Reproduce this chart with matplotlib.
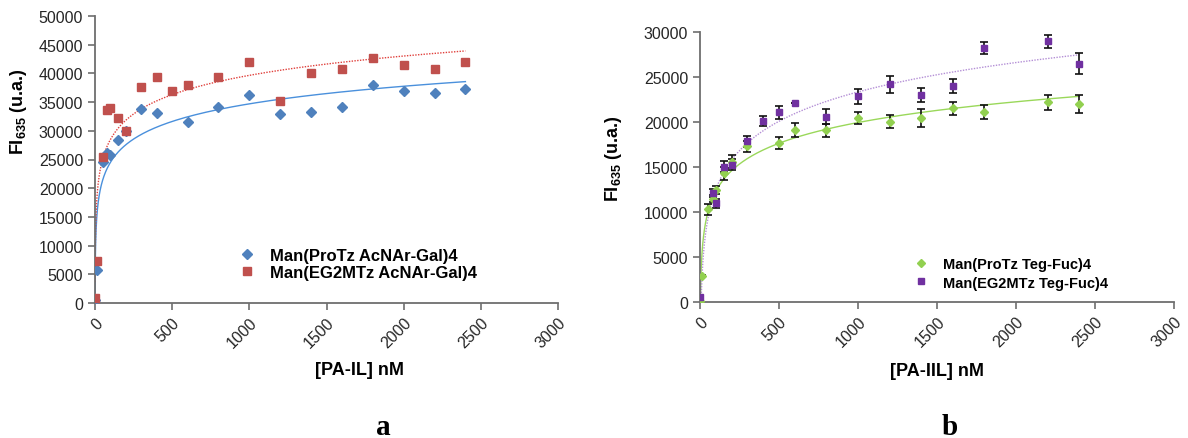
import numpy as np
import matplotlib
matplotlib.use("Agg")
import matplotlib.pyplot as plt

plt.rcParams['font.family'] = ['Liberation Sans', 'DejaVu Sans']
plt.rcParams['mathtext.fontset'] = 'custom'
plt.rcParams['mathtext.rm'] = 'Liberation Sans'
plt.rcParams['mathtext.bf'] = 'Liberation Sans:bold'

# ---------------- Panel a data ----------------
a_x_blue = [0, 10, 50, 80, 100, 150, 200, 300, 400, 600, 800, 1000, 1200, 1400, 1600, 1800, 2000, 2200, 2400]
a_y_blue = [500, 5750, 24600, 26100, 25800, 28450, 30000, 33800, 33100, 31600, 34200, 36200, 33000, 33300, 34200, 38000, 36900, 36600, 37200]
a_x_red = [0, 10, 50, 80, 100, 150, 200, 300, 400, 500, 600, 800, 1000, 1200, 1400, 1600, 1800, 2000, 2200, 2400]
a_y_red = [900, 7300, 25400, 33700, 34000, 32200, 29900, 37700, 39400, 36900, 37900, 39300, 41900, 35200, 40000, 40700, 42600, 41400, 40700, 41900]
a_labels = ['Man(ProTz AcNAr-Gal)4', 'Man(EG2MTz AcNAr-Gal)4']

# ---------------- Panel b data ----------------
b_x_green = [0, 10, 50, 80, 100, 150, 200, 300, 500, 600, 800, 1000, 1200, 1400, 1600, 1800, 2200, 2400]
b_y_green = [150, 2900, 10300, 11500, 12450, 14300, 15600, 17300, 17700, 19100, 19100, 20450, 20050, 20450, 21500, 21150, 22200, 22000]
b_e_green = [0, 150, 610, 400, 460, 740, 740, 590, 650, 800, 720, 690, 690, 960, 760, 780, 830, 1000]
b_x_purple = [0, 80, 100, 150, 200, 300, 400, 500, 600, 800, 1000, 1200, 1400, 1600, 1800, 2200, 2400]
b_y_purple = [600, 12080, 10960, 15040, 15260, 17860, 20150, 21070, 22070, 20600, 22850, 24180, 23000, 24000, 28260, 28970, 26480]
b_e_purple = [0, 460, 480, 590, 610, 610, 560, 700, 0, 830, 830, 925, 760, 780, 670, 740, 1170]
b_labels = ['Man(ProTz Teg-Fuc)4', 'Man(EG2MTz Teg-Fuc)4']

x_ticks = [0, 500, 1000, 1500, 2000, 2500, 3000]
a_y_ticks = list(range(0, 50001, 5000))
b_y_ticks = list(range(0, 30001, 5000))


def logfit_curve(x, y, xmin, xmax):
    x = np.asarray(x, float)
    y = np.asarray(y, float)
    m = x > 0
    a, b = np.polyfit(np.log(x[m]), y[m], 1)
    xs = np.geomspace(xmin, xmax, 400)
    return xs, a * np.log(xs) + b


W, H = 1188, 439
fig = plt.figure(figsize=(W / 100, H / 100), dpi=100)

spine_col = '#6e6e6e'
tick_col = '#262626'
ylab = r'FI$_{\mathbf{635}}$ (u.a.)'


def style(ax, yticks):
    for s in ['top', 'right']:
        ax.spines[s].set_visible(False)
    for s in ['left', 'bottom']:
        ax.spines[s].set_color(spine_col)
        ax.spines[s].set_linewidth(1.3)
    ax.set_xlim(0, 3000)
    ax.set_xticks(x_ticks)
    ax.set_yticks(yticks)
    ax.set_ylim(yticks[0], yticks[-1])
    ax.tick_params(axis='both', colors=spine_col, labelcolor=tick_col, labelsize=11.5, length=5, width=1.2, direction='out')
    for lab in ax.get_xticklabels():
        lab.set_rotation(45)
        lab.set_ha('right')
        lab.set_va('top')
        lab.set_rotation_mode('anchor')


# ---------------- Panel a ----------------
axa = fig.add_axes([95 / W, 1 - 304 / H, 463 / W, 287 / H])
style(axa, a_y_ticks)
xs, ys = logfit_curve(a_x_blue, a_y_blue, 0.6, 2400)
axa.plot(xs, ys, color='#4a90dc', lw=1.0, zorder=2)
xs, ys = logfit_curve(a_x_red, a_y_red, 0.6, 2400)
axa.plot(xs, ys, color='#e0403c', lw=1.0, ls=(0, (1, 1)), zorder=2)
axa.plot(a_x_blue, a_y_blue, ls='none', marker='D', ms=5.5, color='#4f81bd', mec='#4f81bd', label=a_labels[0], zorder=3)
axa.plot(a_x_red, a_y_red, ls='none', marker='s', ms=6.2, color='#c0504d', mec='#c0504d', label=a_labels[1], zorder=3)
axa.set_xlabel('[PA-IL] nM', fontsize=13, fontweight='bold')
axa.xaxis.set_label_coords(0.572, -0.202)
axa.set_ylabel(ylab, fontsize=13, fontweight='bold')
axa.yaxis.set_label_coords(-0.1425, 0.67)
axa.legend(loc='lower left', bbox_to_anchor=(0.289, 0.05), frameon=False, prop={'weight': 'bold', 'size': 12},
           handletextpad=0.8, labelspacing=0.15, borderpad=0, handlelength=1.2)

# ---------------- Panel b ----------------
bw = 474
axb = fig.add_axes([700 / W, 1 - 303 / H, bw / W, 270 / H])
style(axb, b_y_ticks)
xs, ys = logfit_curve(b_x_green, b_y_green, 1.0, 2400)
axb.plot(xs, ys, color='#9ad85a', lw=1.0, zorder=2)
xs, ys = logfit_curve(b_x_purple, b_y_purple, 1.0, 2400)
axb.plot(xs, ys, color='#b48fd6', lw=1.0, ls=(0, (1, 1)), zorder=2)
axb.errorbar(b_x_green, b_y_green, yerr=b_e_green, fmt='none', ecolor='#111111', elinewidth=1.2, capsize=3, capthick=1.2, zorder=3)
axb.errorbar(b_x_purple, b_y_purple, yerr=b_e_purple, fmt='none', ecolor='#111111', elinewidth=1.2, capsize=3, capthick=1.2, zorder=3)
axb.plot(b_x_green, b_y_green, ls='none', marker='D', ms=4.5, color='#92d050', mec='#92d050', label=b_labels[0], zorder=4)
axb.plot(b_x_purple, b_y_purple, ls='none', marker='s', ms=5, color='#7030a0', mec='#7030a0', label=b_labels[1], zorder=4)
axb.set_xlabel('[PA-IIL] nM', fontsize=13, fontweight='bold')
axb.xaxis.set_label_coords((937.5 - 700) / bw, -0.222)
axb.set_ylabel(ylab, fontsize=13, fontweight='bold')
axb.yaxis.set_label_coords(-76 / bw, 0.535)
axb.legend(loc='lower left', bbox_to_anchor=(204.7 / bw, 0.019), frameon=False, prop={'weight': 'bold', 'size': 10.5},
           handletextpad=0.9, labelspacing=0.3, borderpad=0, handlelength=1.2)

fig.text(383 / W, 1 - 435 / H, 'a', ha='center', va='baseline', fontsize=21, fontweight='bold', family='Liberation Serif')
fig.text(950 / W, 1 - 435 / H, 'b', ha='center', va='baseline', fontsize=21, fontweight='bold', family='Liberation Serif')

fig.savefig('out.png', dpi=100)
